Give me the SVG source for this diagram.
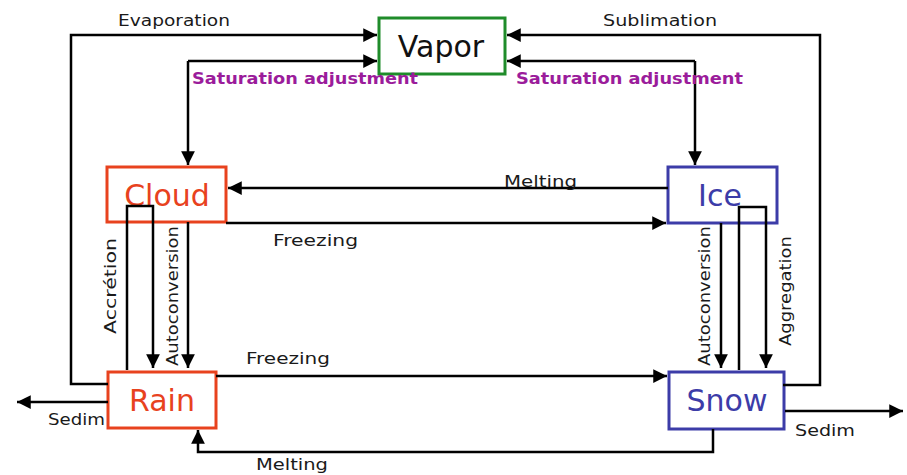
<svg xmlns="http://www.w3.org/2000/svg" width="907" height="475" viewBox="0 0 907 475">
<style>
.box{fill:none;stroke-width:3}
.c{fill:none;stroke:#000;stroke-width:2.5}
.lbl{font-family:"DejaVu Sans","Liberation Sans",sans-serif;font-size:15px;fill:#1a1a1a}
.sat{font-family:"DejaVu Sans","Liberation Sans",sans-serif;font-size:16px;font-weight:bold;fill:#9b1c9b}
.big{font-family:"DejaVu Sans","Liberation Sans",sans-serif;font-size:30px;text-anchor:middle}
</style>
<defs>
<marker id="ah" viewBox="0 0 10 10" refX="10" refY="5" markerWidth="5.5" markerHeight="5.5" orient="auto" markerUnits="strokeWidth">
<path d="M0,0 L10,5 L0,10 z" fill="#000"/>
</marker>
</defs>
<rect width="907" height="475" fill="#fff"/>
<g id="vapor"><rect class="box" x="379" y="18" width="126" height="56" stroke="#1f8c2a"/><text class="big" x="441" y="57" fill="#111">Vapor</text></g>
<g id="cloud"><rect class="box" x="107" y="167" width="119" height="55" stroke="#e8421e"/><text class="big" x="167" y="206" fill="#e8421e">Cloud</text></g>
<g id="ice"><rect class="box" x="668" y="167" width="109" height="56" stroke="#3c3ca8"/><text class="big" x="720" y="206" fill="#3c3ca8">Ice</text></g>
<g id="rain"><rect class="box" x="108" y="372" width="108" height="56" stroke="#e8421e"/><text class="big" x="162" y="411" fill="#e8421e">Rain</text></g>
<g id="snow"><rect class="box" x="669" y="372" width="115" height="57" stroke="#3c3ca8"/><text class="big" x="727" y="411" fill="#3c3ca8">Snow</text></g>
<g id="connectors">
<path class="c" d="M108,384 H71 V35 H377" marker-end="url(#ah)"/>
<path class="c" d="M783,385 H820 V35 H507" marker-end="url(#ah)"/>
<path class="c" d="M188,61 H377" marker-end="url(#ah)"/>
<path class="c" d="M188,61 V165" marker-end="url(#ah)"/>
<path class="c" d="M695,61 H507" marker-end="url(#ah)"/>
<path class="c" d="M695,61 V165" marker-end="url(#ah)"/>
<path class="c" d="M668,188 H228" marker-end="url(#ah)"/>
<path class="c" d="M226,223 H666" marker-end="url(#ah)"/>
<path class="c" d="M127,370 V206 H153 V368" marker-end="url(#ah)"/>
<path class="c" d="M188,222 V368" marker-end="url(#ah)"/>
<path class="c" d="M216,376 H667" marker-end="url(#ah)"/>
<path class="c" d="M108,402 H17" marker-end="url(#ah)"/>
<path class="c" d="M713,429 V452 H198 V430" marker-end="url(#ah)"/>
<path class="c" d="M785,411 H903" marker-end="url(#ah)"/>
<path class="c" d="M721,223 V368" marker-end="url(#ah)"/>
<path class="c" d="M739,370 V207 H766 V368" marker-end="url(#ah)"/>
</g>
<g id="labels">
<text class="lbl" x="118" y="26" textLength="112" lengthAdjust="spacingAndGlyphs">Evaporation</text>
<text class="lbl" x="603" y="26" textLength="114" lengthAdjust="spacingAndGlyphs">Sublimation</text>
<text class="sat" x="192" y="84" textLength="226" lengthAdjust="spacingAndGlyphs">Saturation adjustment</text>
<text class="sat" x="516" y="84" textLength="227" lengthAdjust="spacingAndGlyphs">Saturation adjustment</text>
<text class="lbl" x="504" y="187" textLength="73" lengthAdjust="spacingAndGlyphs">Melting</text>
<text class="lbl" x="273" y="246" textLength="85" lengthAdjust="spacingAndGlyphs">Freezing</text>
<text class="lbl" x="246" y="364" textLength="84" lengthAdjust="spacingAndGlyphs">Freezing</text>
<text class="lbl" x="256" y="470" textLength="72" lengthAdjust="spacingAndGlyphs">Melting</text>
<text class="lbl" x="48" y="425" textLength="57" lengthAdjust="spacingAndGlyphs">Sedim</text>
<text class="lbl" x="795" y="436" textLength="60" lengthAdjust="spacingAndGlyphs">Sedim</text>
<text class="lbl" transform="translate(116,334) rotate(-90)" textLength="96" lengthAdjust="spacingAndGlyphs">Accrétion</text>
<text class="lbl" transform="translate(178,366) rotate(-90)" textLength="140" lengthAdjust="spacingAndGlyphs">Autoconversion</text>
<text class="lbl" transform="translate(710,366) rotate(-90)" textLength="140" lengthAdjust="spacingAndGlyphs">Autoconversion</text>
<text class="lbl" transform="translate(791,346) rotate(-90)" textLength="110" lengthAdjust="spacingAndGlyphs">Aggregation</text>
</g>
</svg>
